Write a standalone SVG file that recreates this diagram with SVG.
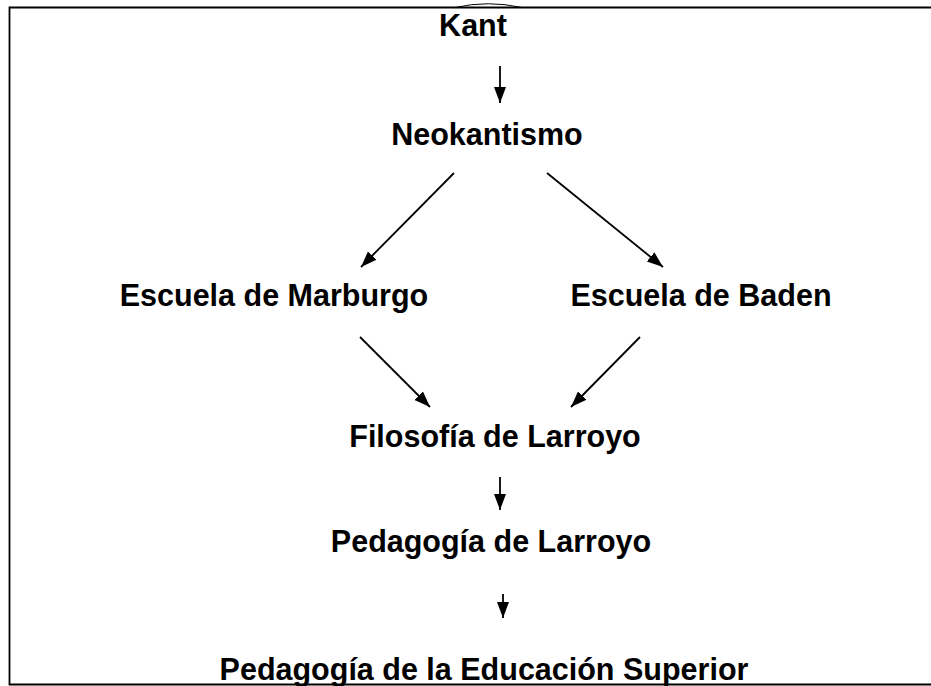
<svg xmlns="http://www.w3.org/2000/svg" width="931" height="686" viewBox="0 0 931 686">
<style>
.t{font-family:"Liberation Sans",Arial,sans-serif;font-weight:bold;font-size:30.5px;fill:#000;text-anchor:middle}
.c{stroke:#000;stroke-width:1.8;fill:none}
.b{stroke:#000;stroke-width:1.8;fill:none}
</style>
<defs>
<marker id="ah" markerUnits="userSpaceOnUse" markerWidth="18" markerHeight="14" refX="16" refY="6" orient="auto">
<path d="M0,0 L16,6 L0,12 z" fill="#000"/>
</marker>
</defs>
<rect width="931" height="686" fill="#fff"/>
<g id="frame">
<path class="b" d="M931,7.5 H9.5 V684.5 H931"/>
<path d="M455,7.5 Q488,0 522,7.5" stroke="#000" stroke-width="1" fill="none"/>
</g>
<g id="kant"><text class="t" x="473" y="36">Kant</text></g>
<g id="neokantismo"><text class="t" x="487" y="145">Neokantismo</text></g>
<g id="marburgo"><text class="t" x="274" y="306">Escuela de Marburgo</text></g>
<g id="baden"><text class="t" x="701" y="306">Escuela de Baden</text></g>
<g id="filosofia"><text class="t" x="495" y="447">Filosofía de Larroyo</text></g>
<g id="pedagogia"><text class="t" x="491" y="552">Pedagogía de Larroyo</text></g>
<g id="superior"><text class="t" x="484" y="680">Pedagogía de la Educación Superior</text></g>
<g id="connectors">
<line class="c" x1="500" y1="66" x2="500" y2="103" marker-end="url(#ah)"/>
<line class="c" x1="454" y1="173" x2="361" y2="267" marker-end="url(#ah)"/>
<line class="c" x1="547" y1="173" x2="663" y2="267" marker-end="url(#ah)"/>
<line class="c" x1="360" y1="337" x2="430" y2="407" marker-end="url(#ah)"/>
<line class="c" x1="640" y1="337" x2="571" y2="407" marker-end="url(#ah)"/>
<line class="c" x1="500" y1="477" x2="500" y2="510" marker-end="url(#ah)"/>
<line class="c" x1="503" y1="594" x2="503" y2="618" marker-end="url(#ah)"/>
</g>
</svg>
